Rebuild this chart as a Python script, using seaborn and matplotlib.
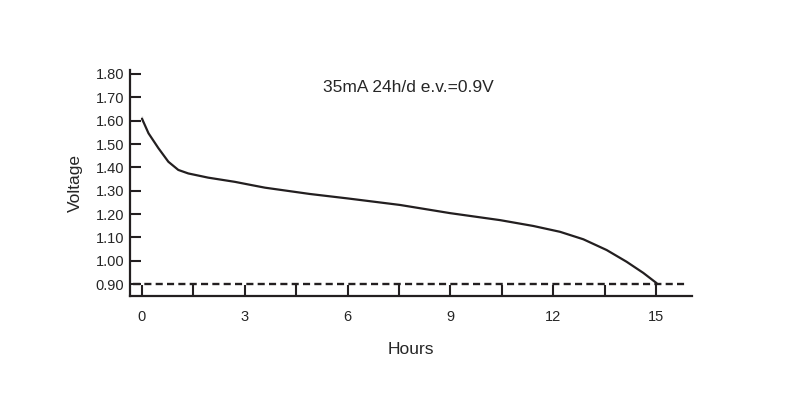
import numpy as np
import pandas as pd
import seaborn as sns
import matplotlib.pyplot as plt

# discharge curve
hours = [0.0, 0.0, 0.19, 0.48, 0.77, 1.06, 1.35, 1.93, 2.71, 3.2, 3.59, 4.9, 6.0,
         7.53, 8.99, 10.45, 11.42, 12.2, 12.88, 13.56, 14.14, 14.63, 15.02]
voltage = [1.621, 1.596, 1.546, 1.482, 1.424, 1.389, 1.374, 1.356, 1.338, 1.324, 1.313,
           1.286, 1.267, 1.239, 1.204, 1.174, 1.149, 1.124, 1.092, 1.046, 0.996, 0.948, 0.904]
cutoff = 0.9
title_text = "35mA 24h/d e.v.=0.9V"
x_ticks = [0, 1.5, 3, 4.5, 6, 7.5, 9, 10.5, 12, 13.5, 15]
x_labels = ["0", "", "3", "", "6", "", "9", "", "12", "", "15"]
y_labels = ["0.90", "1.00", "1.10", "1.20", "1.30", "1.40", "1.50", "1.60", "1.70", "1.80"]

df = pd.DataFrame({"Hours": hours, "Voltage": voltage})

sns.set_style("ticks")
plt.rcParams["font.family"] = ["Liberation Sans", "DejaVu Sans"]

fig = plt.figure(figsize=(7.99, 4.07), dpi=100)
ax = fig.add_axes([0.1627, 0.2727, 0.866 - 0.1627, 0.828 - 0.2727])

sns.lineplot(data=df, x="Hours", y="Voltage", sort=False, color="#231f20",
             linewidth=1.6, ax=ax)
ax.axhline(cutoff, xmin=0.005, xmax=0.99, color="#231f20", linestyle=(0, (3.0, 1.8)),
           linewidth=1.7)

ax.set_xlim(-0.35, 16.05)
ax.set_ylim(0.849, 1.817)

ax.set_xticks(x_ticks)
ax.set_xticklabels(x_labels)
ax.set_yticks([float(v) for v in y_labels])
ax.set_yticklabels(y_labels)

ax.tick_params(direction="in", length=8, width=1.5, labelsize=10.5, color="#231f20")
ax.tick_params(axis="x", pad=10)
ax.tick_params(axis="y", pad=4)

for side in ["top", "right"]:
    ax.spines[side].set_visible(False)
for side in ["left", "bottom"]:
    ax.spines[side].set_linewidth(1.6)
    ax.spines[side].set_color("#231f20")

ax.set_xlabel("Hours", fontsize=12.5, labelpad=13)
ax.set_ylabel("Voltage", fontsize=12.5, labelpad=9)
ax.text(7.76, 1.744, title_text, ha="center", va="center", fontsize=12.5)

fig.savefig("out.png", dpi=100)
